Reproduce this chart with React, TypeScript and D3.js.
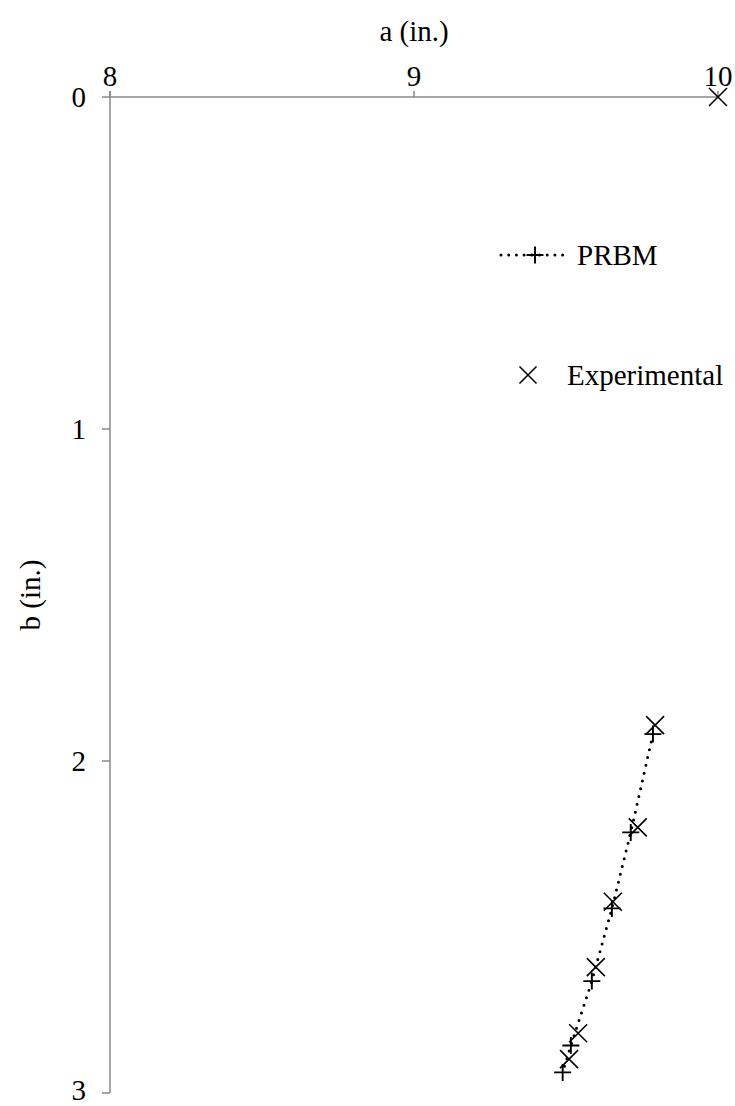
import React from "react";
import * as d3 from "d3";

const xTicks = [8, 9, 10];
const yTicks = [0, 1, 2, 3];

const prbmA = [9.786, 9.713, 9.651, 9.585, 9.516, 9.489];
const prbmB = [1.919, 2.215, 2.444, 2.663, 2.857, 2.938];

const expA = [10, 9.793, 9.736, 9.654, 9.598, 9.54, 9.51];
const expB = [0, 1.892, 2.2, 2.424, 2.621, 2.82, 2.898];

const W = 735;
const H = 1106;
const FONT = '"Liberation Serif", "Times New Roman", Times, serif';
const AXIS = "#898989";
const TS: React.CSSProperties = { fontFamily: FONT, fontSize: 29 };

function XMark({ cx, cy, s = 9 }: { cx: number; cy: number; s?: number }) {
  return (
    <path
      d={`M${cx - s},${cy - s}L${cx + s},${cy + s}M${cx - s},${cy + s}L${cx + s},${cy - s}`}
      stroke="#000"
      strokeWidth={1.6}
      fill="none"
    />
  );
}

function PlusMark({ cx, cy, s = 8.5 }: { cx: number; cy: number; s?: number }) {
  return (
    <path
      d={`M${cx - s},${cy}L${cx + s},${cy}M${cx},${cy - s}L${cx},${cy + s}`}
      stroke="#000"
      strokeWidth={1.9}
      fill="none"
    />
  );
}

export default function App() {
  const x = d3.scaleLinear().domain([8, 10]).range([110, 718]);
  const y = d3.scaleLinear().domain([0, 3]).range([97, 1093]);

  const prbm = prbmA.map((a, i) => ({ a, b: prbmB[i] }));
  const exp = expA.map((a, i) => ({ a, b: expB[i] }));

  const line = d3
    .line<{ a: number; b: number }>()
    .x((d) => x(d.a))
    .y((d) => y(d.b));

  return (
    <svg
      width={W}
      height={H}
      style={{ position: "absolute", left: 0, top: 0, background: "#fff" }}
    >
      <rect width={W} height={H} fill="#fff" />
      {/* top x axis */}
      <line x1={x(8)} x2={x(10)} y1={y(0)} y2={y(0)} stroke={AXIS} strokeWidth={1.5} />
      {xTicks.map((t) => (
        <g key={"xt" + t}>
          <line x1={x(t)} x2={x(t)} y1={y(0)} y2={y(0) - 6} stroke={AXIS} strokeWidth={1.5} />
          <text x={x(t)} y={86} textAnchor="middle" style={TS} fill="#000">
            {t}
          </text>
        </g>
      ))}
      <text x={(x(8) + x(10)) / 2} y={41} textAnchor="middle" style={TS} fill="#000">
        a (in.)
      </text>
      {/* left y axis */}
      <line x1={x(8)} x2={x(8)} y1={y(0) - 6} y2={y(3)} stroke={AXIS} strokeWidth={1.5} />
      {yTicks.map((t) => (
        <g key={"yt" + t}>
          <line x1={x(8) - 8} x2={x(8)} y1={y(t)} y2={y(t)} stroke={AXIS} strokeWidth={1.5} />
          <text x={86} y={Math.min(y(t), 1090)} dy="0.34em" textAnchor="end" style={TS} fill="#000">
            {t}
          </text>
        </g>
      ))}
      <text
        transform={`translate(40,${(y(0) + y(3)) / 2}) rotate(-90)`}
        textAnchor="middle"
        style={TS}
        fill="#000"
      >
        b (in.)
      </text>

      {/* PRBM series */}
      <path
        d={line(prbm) || ""}
        fill="none"
        stroke="#000"
        strokeWidth={3}
        strokeDasharray="0 8"
        strokeLinecap="round"
      />
      {prbm.map((d, i) => (
        <PlusMark key={"p" + i} cx={x(d.a)} cy={y(d.b)} />
      ))}
      {/* Experimental */}
      {exp.map((d, i) => (
        <XMark key={"e" + i} cx={x(d.a)} cy={y(d.b)} />
      ))}

      {/* legend */}
      <line
        x1={501}
        x2={565}
        y1={255}
        y2={255}
        stroke="#000"
        strokeWidth={3}
        strokeDasharray="0 7.7"
        strokeLinecap="round"
      />
      <PlusMark cx={535} cy={255} />
      <text x={577} y={265} style={TS} fill="#000">
        PRBM
      </text>
      <XMark cx={528} cy={375} s={8.5} />
      <text x={567} y={385} style={TS} fill="#000">
        Experimental
      </text>
    </svg>
  );
}
